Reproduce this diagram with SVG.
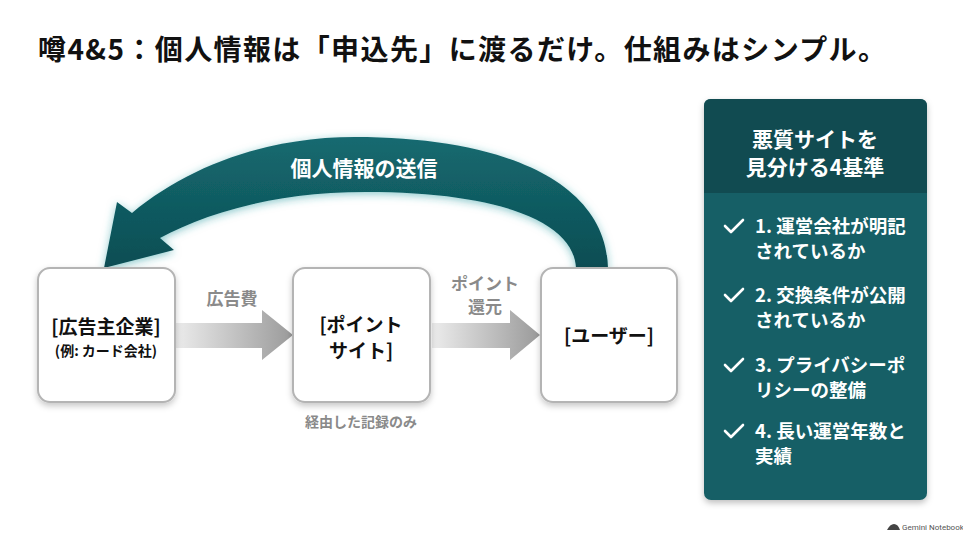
<svg xmlns="http://www.w3.org/2000/svg" width="963" height="537" viewBox="0 0 963 537">
<defs>
<style>
.t{font-family:"Noto Sans CJK JP","Noto Sans",sans-serif;font-weight:bold}
.title{font-size:28px;fill:#111}
.box{fill:#fff;stroke:#b4b4b4;stroke-width:2}
.bt{font-size:19px;fill:#111;text-anchor:middle}
.lbl{font-size:17px;fill:#8a8a8a;text-anchor:middle}
.ph{font-size:21px;fill:#fff;text-anchor:middle}
.pi{font-size:18.5px;fill:#fff}
.chk{fill:none;stroke:#fff;stroke-width:2.6;stroke-linecap:round;stroke-linejoin:round}
</style>
<linearGradient id="ga" x1="0" y1="0" x2="1" y2="0">
<stop offset="0" stop-color="#ececec"/><stop offset="1" stop-color="#9a9a9a"/>
</linearGradient>
<linearGradient id="gc" x1="0" y1="0" x2="0" y2="1">
<stop offset="0" stop-color="#156a70"/><stop offset="1" stop-color="#0c4d53"/>
</linearGradient>
<filter id="sh" x="-20%" y="-20%" width="140%" height="150%">
<feDropShadow dx="0" dy="3" stdDeviation="3" flood-color="#000" flood-opacity="0.22"/>
</filter>
<filter id="glow" x="-20%" y="-30%" width="140%" height="160%">
<feDropShadow dx="0" dy="2" stdDeviation="4" flood-color="#2a9aa0" flood-opacity="0.55"/>
</filter>
<filter id="psh" x="-10%" y="-10%" width="120%" height="120%">
<feDropShadow dx="0" dy="3" stdDeviation="3" flood-color="#000" flood-opacity="0.25"/>
</filter>
</defs>
<rect width="963" height="537" fill="#fff"/>

<text class="t title" x="38" y="60" textLength="848" lengthAdjust="spacing">噂4&amp;5：個人情報は「申込先」に渡るだけ。仕組みはシンプル。</text>

<g id="connectors">
<g id="curve-arrow">
<path d="M576 268 C574 222 500 192 366 192 C272 192 205 214 160 238 L174 250 L104 268 L117 202 L132 213 C190 165 268 137 355 137 C500 137 606 180 608 268 Z" fill="url(#gc)" filter="url(#glow)"/>
<text class="t" x="364" y="176" font-size="21" fill="#fff" text-anchor="middle">個人情報の送信</text>
</g>
<g id="arrow-ad">
<path d="M175 323 L262 323 L262 310 L293 335 L262 360 L262 348 L175 348 Z" fill="url(#ga)"/>
<text class="t lbl" x="232" y="305">広告費</text>
</g>
<g id="arrow-point">
<path d="M432 323 L510 323 L510 310 L540 335 L510 360 L510 348 L432 348 Z" fill="url(#ga)"/>
<text class="t lbl" x="485" y="290">ポイント</text>
<text class="t lbl" x="485" y="313">還元</text>
</g>
</g>

<g id="node-advertiser">
<rect class="box" x="38" y="268" width="137" height="134" rx="12" filter="url(#sh)"/>
<text class="t bt" x="106" y="334">[広告主企業]</text>
<text class="t" x="106" y="356" font-size="14" fill="#111" text-anchor="middle">(例: カード会社)</text>
</g>
<g id="node-pointsite">
<rect class="box" x="293" y="268" width="137" height="134" rx="12" filter="url(#sh)"/>
<text class="t bt" x="361" y="332">[ポイント</text>
<text class="t bt" x="361" y="358">サイト]</text>
<text class="t" x="361" y="427" font-size="14" fill="#8a8a8a" text-anchor="middle">経由した記録のみ</text>
</g>
<g id="node-user">
<rect class="box" x="541" y="268" width="136" height="134" rx="12" filter="url(#sh)"/>
<text class="t bt" x="609" y="343">[ユーザー]</text>
</g>

<g id="panel">
<rect x="704" y="99" width="223" height="401" rx="7" fill="#195e66" filter="url(#psh)"/>
<path d="M704 193 L704 106 Q704 99 711 99 L920 99 Q927 99 927 106 L927 193 Z" fill="#114b51"/>
<text class="t ph" x="815" y="147">悪質サイトを</text>
<text class="t ph" x="815" y="175">見分ける4基準</text>
<path class="chk" d="M725 226 L731 232 L743 220"/>
<text class="t pi" x="755" y="233">1. 運営会社が明記</text>
<text class="t pi" x="755" y="258">されているか</text>
<path class="chk" d="M725 295 L731 301 L743 289"/>
<text class="t pi" x="755" y="302">2. 交換条件が公開</text>
<text class="t pi" x="755" y="327">されているか</text>
<path class="chk" d="M725 365 L731 371 L743 359"/>
<text class="t pi" x="755" y="372">3. プライバシーポ</text>
<text class="t pi" x="755" y="397">リシーの整備</text>
<path class="chk" d="M725 431 L731 437 L743 425"/>
<text class="t pi" x="755" y="438">4. 長い運営年数と</text>
<text class="t pi" x="755" y="463">実績</text>
</g>

<g id="watermark">
<path d="M887 530 Q890 524 894 524 Q898 524 900 530 Z" fill="#444"/>
<text x="902" y="530" font-family="Roboto,'Liberation Sans',sans-serif" font-size="8" fill="#555">Gemini Notebook</text>
</g>
</svg>
